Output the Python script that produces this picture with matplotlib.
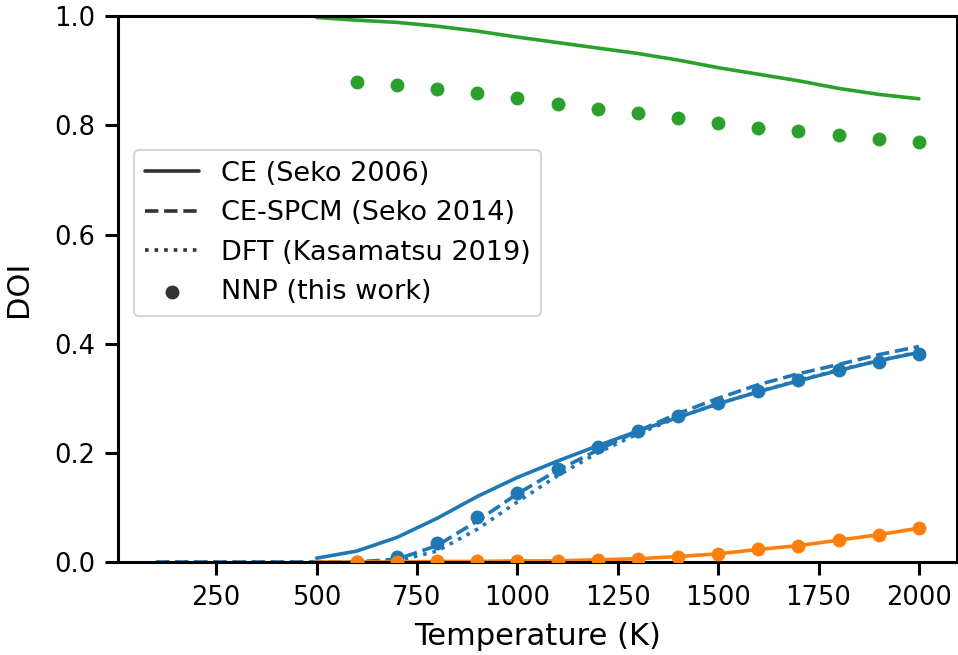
import numpy as np
import matplotlib
matplotlib.use("Agg")
import matplotlib.pyplot as plt
import seaborn as sns

sns.set_theme(context="talk", style="ticks")
plt.rcParams['font.family'] = ['DejaVu Sans']
plt.rcParams.update({
    "text.color": "black", "axes.labelcolor": "black", "axes.edgecolor": "black",
    "xtick.color": "black", "ytick.color": "black",
    "xtick.labelsize": 18.5, "ytick.labelsize": 18.5,
    "axes.labelsize": 22, "legend.fontsize": 19.5,
    "axes.linewidth": 2.2, "xtick.major.width": 2.2, "ytick.major.width": 2.2,
    "xtick.major.size": 9.5, "ytick.major.size": 9.5,
    "xtick.major.pad": 7, "ytick.major.pad": 7,
    "lines.linewidth": 2.6,
})

blue, orange, green = "#1f77b4", "#ff7f0e", "#2ca02c"

# CE (Seko 2006)
T_ce = [500, 600, 700, 800, 900, 1000, 1100, 1200, 1300, 1400, 1500, 1600, 1700, 1800, 1900, 2000]
ce_blue = [0.007, 0.020, 0.045, 0.080, 0.120, 0.155, 0.185, 0.213, 0.240, 0.265, 0.290, 0.312, 0.332, 0.351, 0.369, 0.384]
ce_orange = [0.0, 0.0, 0.0, 0.001, 0.001, 0.002, 0.002, 0.004, 0.006, 0.010, 0.015, 0.023, 0.030, 0.040, 0.050, 0.062]
ce_green = [0.998, 0.993, 0.989, 0.982, 0.973, 0.962, 0.952, 0.942, 0.932, 0.920, 0.906, 0.894, 0.882, 0.868, 0.857, 0.849]

# CE-SPCM (Seko 2014)
T_spcm = [100, 200, 300, 400, 500, 600, 700, 800, 900, 1000, 1100, 1200, 1300, 1400, 1500, 1600, 1700, 1800, 1900, 2000]
spcm_blue = [0.0, 0.0, 0.0, 0.0, 0.0, 0.0, 0.005, 0.030, 0.075, 0.125, 0.168, 0.205, 0.240, 0.272, 0.300, 0.325, 0.345, 0.362, 0.380, 0.395]

# DFT (Kasamatsu 2019)
T_dft = [100, 200, 300, 400, 500, 600, 700, 800, 900, 1000, 1100, 1200, 1300, 1400, 1500, 1600, 1700, 1800, 1900, 2000]
dft_blue = [0.0, 0.0, 0.0, 0.0, 0.0, 0.0, 0.002, 0.020, 0.060, 0.110, 0.158, 0.200, 0.235, 0.265, 0.290, 0.312, 0.333, 0.352, 0.369, 0.385]

# NNP (this work)
T_nnp = [600, 700, 800, 900, 1000, 1100, 1200, 1300, 1400, 1500, 1600, 1700, 1800, 1900, 2000]
nnp_blue = [0.0, 0.010, 0.035, 0.082, 0.127, 0.170, 0.210, 0.240, 0.268, 0.292, 0.313, 0.333, 0.352, 0.367, 0.382]
nnp_orange = [0.0, 0.0, 0.001, 0.001, 0.002, 0.002, 0.004, 0.006, 0.010, 0.015, 0.023, 0.030, 0.040, 0.050, 0.062]
nnp_green = [0.880, 0.875, 0.867, 0.859, 0.850, 0.840, 0.831, 0.822, 0.813, 0.804, 0.796, 0.789, 0.782, 0.775, 0.769]

fig, ax = plt.subplots(figsize=(9.58, 6.55), dpi=100)

ax.plot(T_spcm, spcm_blue, c=blue, ls="--")
ax.plot(T_dft, dft_blue, c=blue, ls=":")
ax.plot(T_ce, ce_blue, c=blue)
ax.plot(T_ce, ce_orange, c=orange)
ax.plot(T_ce, ce_green, c=green)
ax.scatter(T_nnp, nnp_blue, c=blue, s=100, linewidths=0, zorder=3)
ax.scatter(T_nnp, nnp_orange, c=orange, s=100, linewidths=0, zorder=3)
ax.scatter(T_nnp, nnp_green, c=green, s=100, linewidths=0, zorder=3)

# legend proxies
ax.plot([], [], c="0.2", label="CE (Seko 2006)")
ax.plot([], [], c="0.2", ls="--", label="CE-SPCM (Seko 2014)")
ax.plot([], [], c="0.2", ls=":", label="DFT (Kasamatsu 2019)")
ax.scatter([], [], c="0.2", s=100, linewidths=0, label="NNP (this work)")

ax.set_ylim(0, 1.0)
ax.set_xticks([250, 500, 750, 1000, 1250, 1500, 1750, 2000])
ax.set_xlabel("Temperature (K)", labelpad=8)
ax.set_ylabel("DOI", labelpad=15)
ax.legend(loc="upper left", bbox_to_anchor=(0.003, 0.78))

plt.subplots_adjust(left=0.123, right=0.999, top=0.975, bottom=0.142)
plt.savefig("out.png")
